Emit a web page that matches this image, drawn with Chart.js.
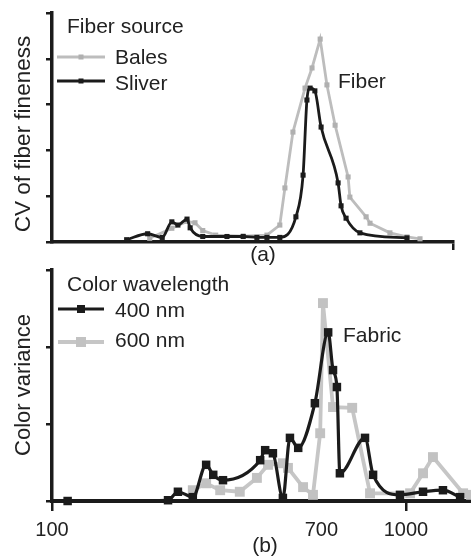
<!DOCTYPE html>
<html><head><meta charset="utf-8">
<script src="https://cdn.jsdelivr.net/npm/chart.js@4/dist/chart.umd.min.js"></script>
<style>
html,body{margin:0;padding:0;background:#fff;}
#wrap{position:relative;width:471px;height:556px;overflow:hidden;}
#c1{position:absolute;left:0;top:0;}
#c2{position:absolute;left:0;top:262px;}
</style></head><body>
<div id="wrap"><canvas id="c1" width="471" height="270"></canvas><canvas id="c2" width="471" height="294"></canvas></div>
<script>
// ---------- data (x = wavelength, sqrt-scaled axis) ----------
const xTickValues = [100, 700, 1000];
const xTickLabels = ['100', '700', '1000'];

// Panel (a): Fiber
const balesX = [255, 300, 333, 351, 369, 400, 470, 535, 572, 587, 611, 648, 670, 696, 718, 745, 789, 795, 852, 866, 939, 1004, 1055];
const balesY = [0.08, 0.3, 0.45, 0.42, 0.25, 0.15, 0.13, 0.15, 0.37, 1.18, 2.4, 3.36, 3.8, 4.43, 3.43, 2.55, 1.42, 0.98, 0.55, 0.41, 0.2, 0.11, 0.07];
const sliverX = [212, 251, 280, 300, 313, 333, 340, 369, 428, 470, 507, 535, 572, 620, 642, 654, 664, 679, 699, 755, 765, 782, 830, 1004];
const sliverY = [0.05, 0.18, 0.1, 0.44, 0.37, 0.5, 0.31, 0.12, 0.12, 0.12, 0.1, 0.1, 0.1, 0.55, 1.46, 3.1, 3.36, 3.3, 2.51, 1.29, 0.79, 0.52, 0.2, 0.09];

// Panel (b): Fabric
const nm400X = [120, 292, 313, 346, 377, 394, 418, 516, 530, 552, 581, 602, 627, 679, 722, 738, 751, 761, 848, 877, 977, 1067, 1148, 1220];
const nm400Y = [0, 0.01, 0.12, 0.05, 0.47, 0.34, 0.27, 0.53, 0.66, 0.62, 0.04, 0.82, 0.69, 1.27, 2.19, 1.7, 1.48, 0.36, 0.82, 0.34, 0.08, 0.12, 0.14, 0.05];
const nm600X = [346, 377, 411, 461, 507, 538, 581, 596, 642, 673, 696, 705, 738, 803, 866, 1016, 1067, 1107, 1233, 1267];
const nm600Y = [0.14, 0.23, 0.14, 0.12, 0.3, 0.47, 0.49, 0.43, 0.18, 0.08, 0.88, 2.57, 1.22, 1.21, 0.1, 0.1, 0.36, 0.57, 0.1, 0.08];

const seriesLabels = { bales: 'Bales', sliver: 'Sliver', nm400: '400 nm', nm600: '600 nm' };

// ---------- styles ----------
const FAM = '"Liberation Sans", Arial, Helvetica, sans-serif';
const FONT = '21px ' + FAM;
const INK = '#222';
const BLACK = '#1b1b1b';
const GRAY = '#bdbdbd';

// ---------- sqrt scale ----------
class SqrtScale extends Chart.LinearScale {
  getPixelForValue(v) {
    const a = Math.sqrt(this.min), b = Math.sqrt(this.max);
    return this.getPixelForDecimal((Math.sqrt(Math.max(v, 0)) - a) / (b - a));
  }
  getValueForPixel(p) {
    const a = Math.sqrt(this.min), b = Math.sqrt(this.max);
    const s = a + this.getDecimalForPixel(p) * (b - a);
    return s * s;
  }
}
SqrtScale.id = 'sqrt';
SqrtScale.defaults = Chart.LinearScale.defaults;
Chart.register(SqrtScale);

const pts = (xs, ys) => xs.map((x, i) => ({ x, y: ys[i] }));

const textPlugin = {
  id: 'extraText',
  afterDraw(chart, args, opts) {
    const ctx = chart.ctx;
    (opts.items || []).forEach(t => {
      ctx.save();
      ctx.font = t.font || FONT;
      ctx.fillStyle = INK;
      ctx.textAlign = t.align || 'left';
      ctx.textBaseline = 'alphabetic';
      ctx.translate(t.x, t.y);
      if (t.rotate) ctx.rotate(t.rotate);
      ctx.fillText(t.text, 0, 0);
      ctx.restore();
    });
  }
};

const legendPlugin = {
  id: 'panelLegend',
  afterDraw(chart, args, opts) {
    if (!opts.title) return;
    const ctx = chart.ctx;
    ctx.save();
    ctx.font = FONT;
    ctx.fillStyle = INK;
    ctx.textBaseline = 'alphabetic';
    ctx.fillText(opts.title, opts.x, opts.titleY);
    opts.order.forEach((di, k) => {
      const ds = chart.data.datasets[di];
      const y = opts.lineY[k];
      ctx.strokeStyle = ds.borderColor;
      ctx.lineWidth = ds.borderWidth;
      ctx.beginPath();
      ctx.moveTo(opts.lineX0, y);
      ctx.lineTo(opts.lineX1, y);
      ctx.stroke();
      const s = opts.marker[k];
      ctx.fillStyle = ds.pointBackgroundColor;
      ctx.fillRect((opts.lineX0 + opts.lineX1) / 2 - s / 2, y - s / 2, s, s);
      ctx.fillStyle = INK;
      ctx.fillText(ds.label, opts.textX, opts.textY[k]);
    });
    ctx.restore();
  }
};

function yAxis(max) {
  return {
    type: 'linear', min: 0, max: max,
    ticks: { display: false, stepSize: 1 },
    grid: { display: true, drawOnChartArea: false, drawTicks: true, tickLength: 6, color: BLACK, lineWidth: 2.5 },
    border: { display: true, color: BLACK, width: 3.5 },
    afterFit: s => { s.width = 52; }
  };
}

// ---------- chart (a) ----------
new Chart(document.getElementById('c1'), {
  type: 'line',
  data: {
    datasets: [
      { label: seriesLabels.sliver, data: pts(sliverX, sliverY), borderColor: BLACK, backgroundColor: BLACK,
        pointBackgroundColor: BLACK, pointBorderColor: BLACK, borderWidth: 2.8, pointStyle: 'rect', pointRadius: 3.6,
        pointBorderWidth: 0, cubicInterpolationMode: 'monotone', clip: false, order: 0 },
      { label: seriesLabels.bales, data: pts(balesX, balesY), borderColor: GRAY, backgroundColor: GRAY,
        pointBackgroundColor: '#b0b0b0', pointBorderColor: '#b0b0b0', borderWidth: 2.8, pointStyle: 'rect', pointRadius: 3.6,
        pointBorderWidth: 0, tension: 0, clip: false, order: 1 }
    ]
  },
  options: {
    responsive: false, animation: false, devicePixelRatio: 1,
    layout: { padding: { top: 13, right: 18, left: 0, bottom: 0 }, autoPadding: false },
    scales: {
      x: {
        type: 'sqrt', min: 100, max: 1190, bounds: 'data',
        afterBuildTicks: axis => { axis.ticks = [{ value: 1190 }]; },
        ticks: { display: false },
        grid: { display: true, drawOnChartArea: false, drawTicks: true, tickLength: 8, color: BLACK, lineWidth: 2.5 },
        border: { display: true, color: BLACK, width: 3.5 },
        afterFit: s => { s.height = 28; }
      },
      y: yAxis(5)
    },
    plugins: {
      legend: { display: false }, tooltip: { enabled: false },
      panelLegend: { title: 'Fiber source', x: 67, titleY: 33, order: [1, 0], lineY: [57, 81], lineX0: 57, lineX1: 105,
        marker: [5, 5], textX: 115, textY: [64, 90] },
      extraText: { items: [
        { text: 'CV of fiber fineness', x: 30, y: 134, rotate: -Math.PI / 2, align: 'center', font: '22.5px ' + FAM },
        { text: 'Fiber', x: 338, y: 88 },
        { text: '(a)', x: 263, y: 261, align: 'center' }
      ] }
    }
  },
  plugins: [legendPlugin, textPlugin]
});

// ---------- chart (b) ----------
new Chart(document.getElementById('c2'), {
  type: 'line',
  data: {
    datasets: [
      { label: seriesLabels.nm400, data: pts(nm400X, nm400Y), borderColor: BLACK, backgroundColor: BLACK,
        pointBackgroundColor: BLACK, pointBorderColor: BLACK, borderWidth: 3.2, pointStyle: 'rect', pointRadius: 6,
        pointBorderWidth: 0, cubicInterpolationMode: 'monotone', clip: false, order: 0 },
      { label: seriesLabels.nm600, data: pts(nm600X, nm600Y), borderColor: '#c6c6c6', backgroundColor: '#c6c6c6',
        pointBackgroundColor: '#c2c2c2', pointBorderColor: '#c2c2c2', borderWidth: 3.8, pointStyle: 'rect', pointRadius: 7,
        pointBorderWidth: 0, tension: 0, clip: false, order: 1 }
    ]
  },
  options: {
    responsive: false, animation: false, devicePixelRatio: 1,
    layout: { padding: { top: 8, right: 0, left: 0, bottom: 0 }, autoPadding: false },
    scales: {
      x: {
        type: 'sqrt', min: 100, max: 1267, bounds: 'data',
        afterBuildTicks: axis => { axis.ticks = xTickValues.map(v => ({ value: v })); },
        ticks: { display: true, maxRotation: 0, autoSkip: false, padding: 7, color: INK,
          font: { family: FAM, size: 20 },
          callback: (v) => xTickLabels[xTickValues.indexOf(v)] },
        grid: { display: true, drawOnChartArea: false, drawTicks: true, tickLength: 10, lineWidth: 2.5,
          color: c => (c.tick && c.tick.value === 700) ? 'rgba(0,0,0,0)' : BLACK },
        border: { display: true, color: BLACK, width: 4 },
        afterFit: s => { s.height = 55; }
      },
      y: yAxis(3)
    },
    plugins: {
      legend: { display: false }, tooltip: { enabled: false },
      panelLegend: { title: 'Color wavelength', x: 67, titleY: 29, order: [0, 1], lineY: [47, 80], lineX0: 58, lineX1: 104,
        marker: [8, 10], textX: 115, textY: [55, 85] },
      extraText: { items: [
        { text: 'Color variance', x: 30, y: 123, rotate: -Math.PI / 2, align: 'center', font: '22px ' + FAM },
        { text: 'Fabric', x: 343, y: 80 },
        { text: '(b)', x: 265, y: 290, align: 'center' }
      ] }
    }
  },
  plugins: [legendPlugin, textPlugin]
});
</script>
</body></html>
